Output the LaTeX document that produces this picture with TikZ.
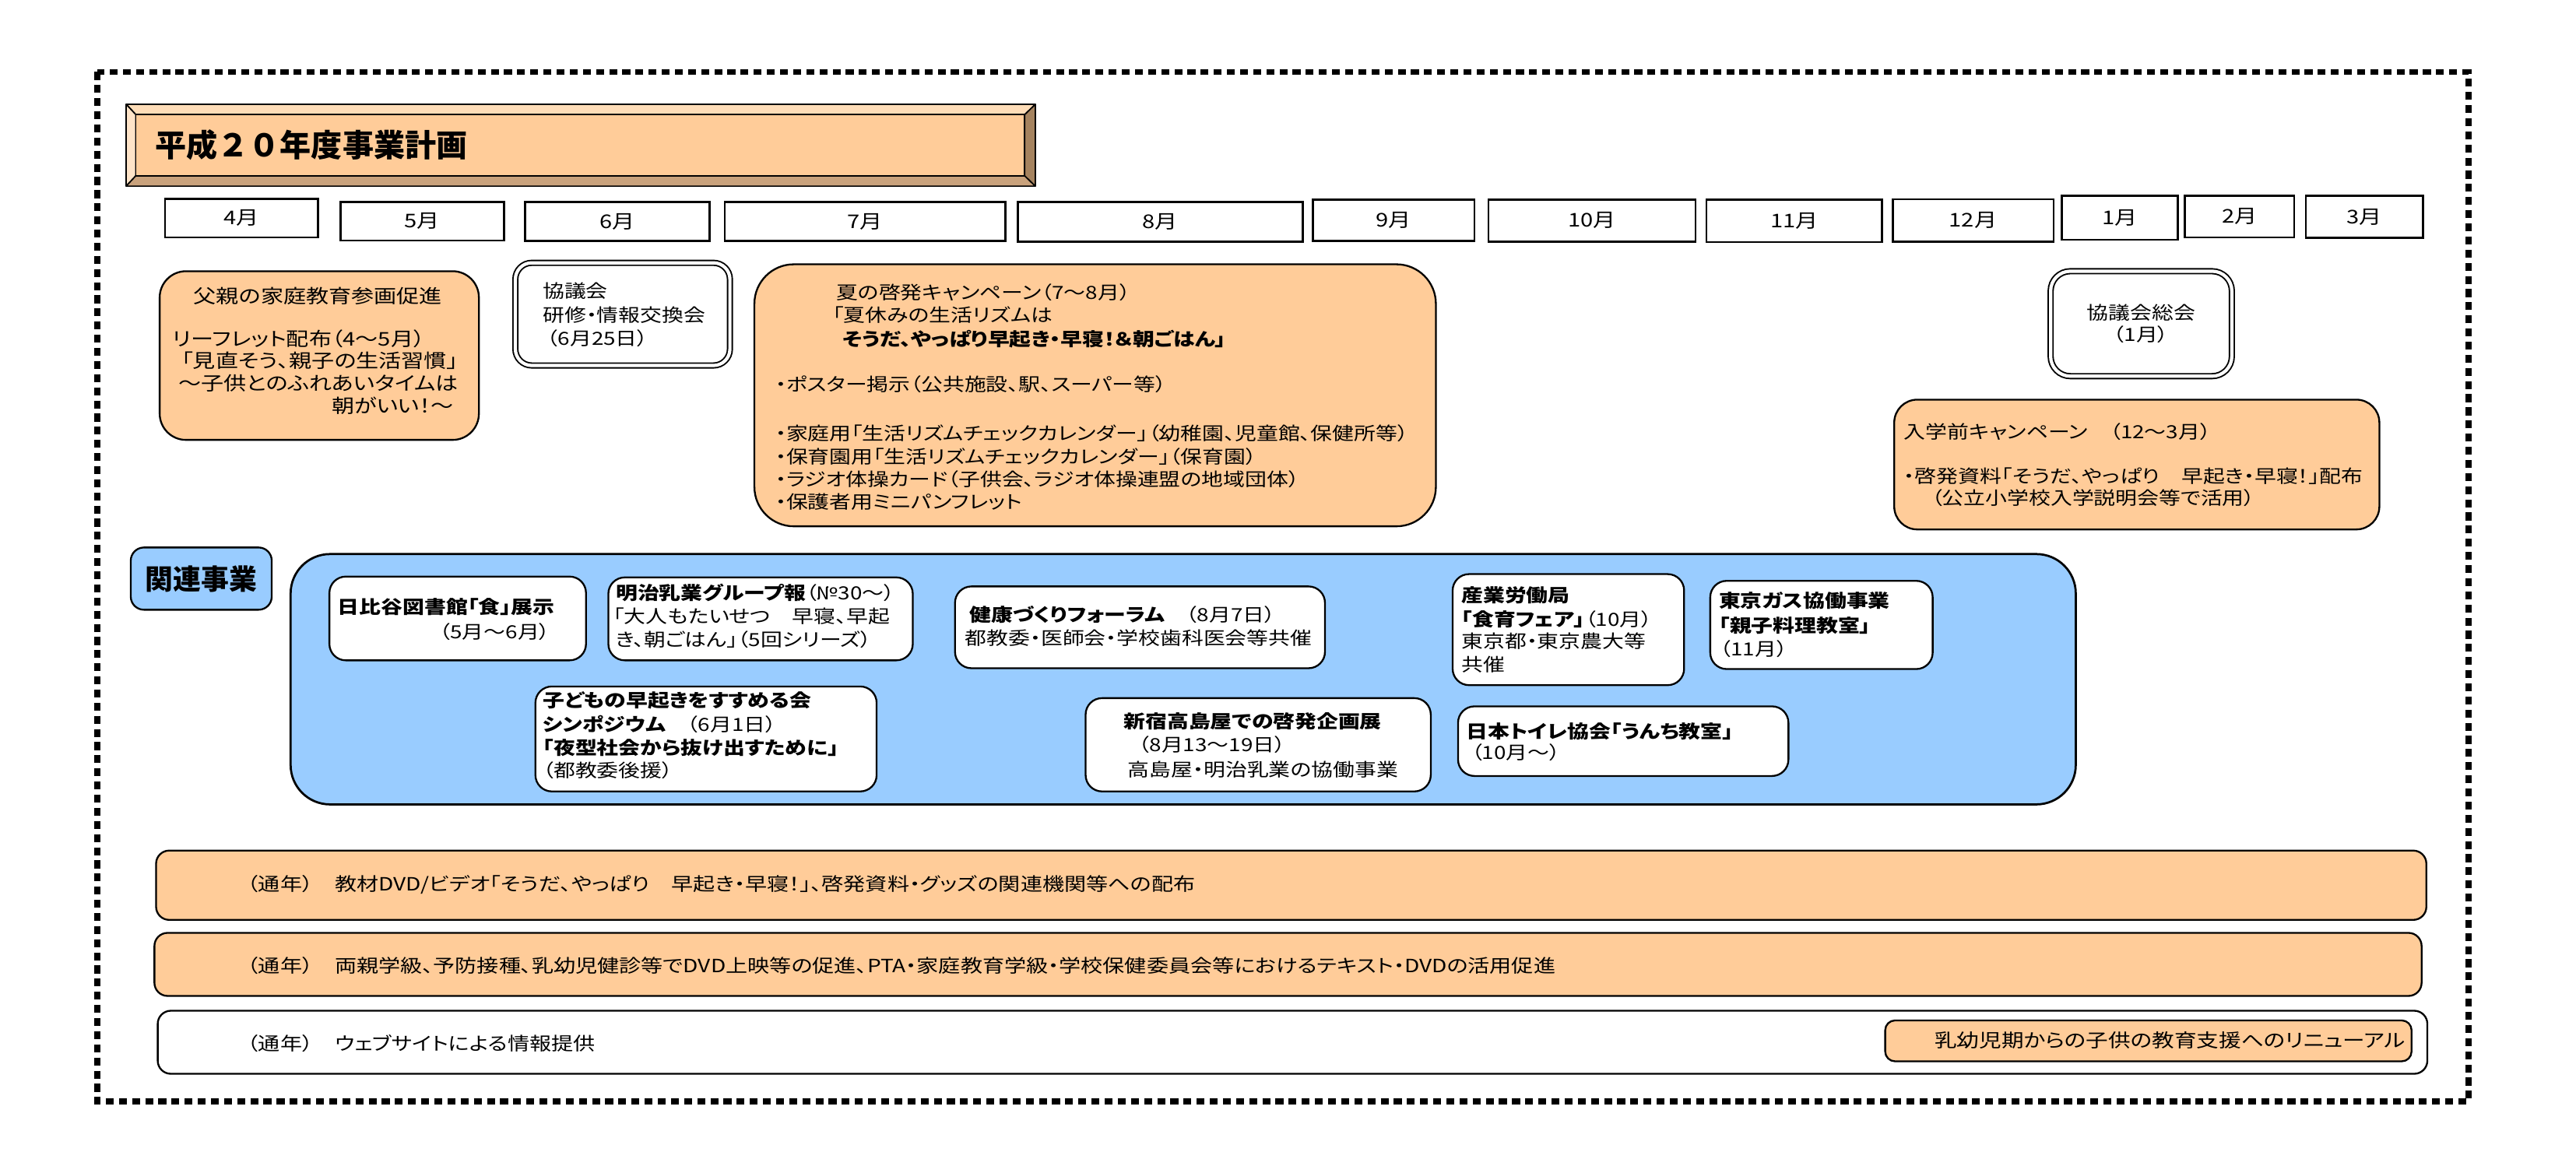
\documentclass[tikz,border=0pt]{standalone}
\usepackage{fontspec}
\setmainfont{Noto Sans CJK JP}[FakeStretch=1.2,RawFeature=+palt]
\newfontfamily\hfont{Noto Sans CJK JP}
\definecolor{peach}{HTML}{FFCC99}
\definecolor{sky}{HTML}{99CCFF}
\definecolor{bevtop}{HTML}{FFDDB8}
\definecolor{bevleft}{HTML}{FFE4C8}
\definecolor{bevbot}{HTML}{C9A27C}
\definecolor{bevright}{HTML}{A5835F}
\newcommand\FS[1]{\fontsize{#1}{#1}\selectfont}
\newcommand\BX[7]{\node[#2,minimum width={(#5)-(#3)},minimum height={(#6)-(#4)}] (#1) at ({((#3)+(#5))/2},{((#4)+(#6))/2}) {#7};}
\newcommand\TX[5]{\node[txt,#2] (#1) at (#3,#4) {#5};}
\begin{document}
\begin{tikzpicture}[x=1pt,y=-1pt,
 box/.style={draw,line width=1.1pt,rounded corners=#1,inner sep=0pt,outer sep=0pt},box/.default=8pt,
 pbox/.style={box={#1},fill=peach},pbox/.default=8pt,
 wbox/.style={box={#1},fill=white},wbox/.default=8pt,
 dbox/.style={draw,double,double distance=2pt,line width=0.9pt,rounded corners=#1,fill=white,inner sep=0pt,outer sep=0pt},dbox/.default=10pt,
 mbox/.style={draw,line width=1.3pt,fill=white,inner sep=0pt,outer sep=0pt,font=\FS{11.5}},
 txt/.style={inner sep=0pt,outer sep=0pt,anchor=west,font=\FS{11}},
 bevel/.style={draw,line width=0.8pt,line join=round},
]
\fill[white] (0,0) rectangle (1568,700.85);
\useasboundingbox (0,0) rectangle (1568,700.85);
% outer dotted frame
\draw[line width=3.6pt,dash pattern=on 4.8pt off 3.2pt] (59.2,43.8) rectangle (1502.6,670.6);
% title bevel
\filldraw[bevel,fill=bevtop] (76.8,63.5) -- (630.2,63.5) -- (623.7,69.8) -- (82.7,69.8) -- cycle;
\filldraw[bevel,fill=bevleft] (76.8,63.5) -- (82.7,69.8) -- (82.7,107) -- (76.8,113.3) -- cycle;
\filldraw[bevel,fill=bevbot] (76.8,113.3) -- (82.7,107) -- (623.7,107) -- (630.2,113.3) -- cycle;
\filldraw[bevel,fill=bevright] (630.2,63.5) -- (630.2,113.3) -- (623.7,107) -- (623.7,69.8) -- cycle;
\BX{title}{draw,line width=0.8pt,fill=peach,inner sep=0pt,outer sep=0pt}{82.7}{69.8}{623.7}{107}{}
\TX{titletext}{font=\hfont\bfseries\FS{19}}{94.5}{88.3}{平成２０年度事業計画}
% months
\BX{m4}{mbox}{100.4}{121}{193.6}{144.5}{4月}
\BX{m5}{mbox}{207.3}{122.8}{306.8}{146.4}{5月}
\BX{m6}{mbox}{319.7}{122.8}{431.8}{146.8}{6月}
\BX{m7}{mbox}{441.1}{122.8}{612.1}{146.8}{7月}
\BX{m8}{mbox}{619.5}{122.8}{793}{147}{8月}
\BX{m9}{mbox}{799}{121.5}{897.5}{146.5}{9月}
\BX{m10}{mbox}{906}{121.5}{1032}{147}{10月}
\BX{m11}{mbox}{1038.7}{121.6}{1145.7}{147.4}{11月}
\BX{m12}{mbox}{1152}{121.3}{1250}{147.2}{12月}
\BX{m1}{mbox}{1255}{119.3}{1325.5}{146}{1月}
\BX{m2}{mbox}{1330}{119.3}{1396.5}{144.5}{2月}
\BX{m3}{mbox}{1403.5}{119.3}{1475}{144.7}{3月}
% box A
\BX{boxA}{pbox=16pt}{97.2}{165.1}{291.5}{267.8}{}
\TX{a1}{anchor=center,font=\FS{11.5}}{193.5}{180.1}{父親の家庭教育参画促進}
\TX{a2}{font=\FS{11.5}}{105.1}{206.2}{リーフレット配布（4～5月）}
\TX{a3}{font=\FS{11.5}}{110.6}{219.6}{「見直そう、親子の生活習慣」}
\TX{a4}{anchor=east,font=\FS{11.5}}{279}{233.3}{～子供とのふれあいタイムは}
\TX{a5}{anchor=east,font=\FS{11.5}}{276}{247.2}{朝がいい！～}
% box B
\BX{boxB}{dbox=10pt}{313.7}{160}{444.3}{222.5}{}
\TX{b1}{}{330.4}{177.2}{協議会}
\TX{b2}{}{330.4}{191.7}{研修・情報交換会}
\TX{b3}{}{333}{205.8}{（6月25日）}
% box C
\BX{boxC}{pbox=24pt}{459.2}{160.9}{874}{320.4}{}
\TX{c1}{}{509.1}{178}{夏の啓発キャンペーン（7～8月）}
\TX{c2}{}{507}{191.7}{「夏休みの生活リズムは}
\TX{c3}{font=\FS{11}\bfseries}{513}{206.2}{そうだ、やっぱり早起き・早寝！＆朝ごはん」}
\TX{c4}{}{472}{233.8}{・ポスター掲示（公共施設、駅、スーパー等）}
\TX{c5}{}{472}{263.8}{・家庭用「生活リズムチェックカレンダー」（幼稚園、児童館、保健所等）}
\TX{c6}{}{472}{277.9}{・保育園用「生活リズムチェックカレンダー」（保育園）}
\TX{c7}{}{472}{291.7}{・ラジオ体操カード（子供会、ラジオ体操連盟の地域団体）}
\TX{c8}{}{472}{305.6}{・保護者用ミニパンフレット}
% box D
\BX{boxD}{dbox=12pt}{1248.2}{165.1}{1358.5}{229}{}
\TX{d1}{anchor=center}{1303.2}{190.4}{協議会総会}
\TX{d2}{anchor=center}{1303.2}{203.8}{（1月）}
% box E
\BX{boxE}{pbox=14pt}{1153}{243.3}{1448.3}{322.3}{}
\TX{e1}{font=\FS{11}}{1159}{263}{入学前キャンペーン　（12～3月）}
\TX{e2}{font=\FS{11}}{1159}{289.9}{・啓発資料「そうだ、やっぱり　早起き・早寝！」配布}
\TX{e3}{font=\FS{11}}{1175.6}{303.3}{（公立小学校入学説明会等で活用）}
% related
\BX{rel}{box=8pt,fill=sky}{79.6}{333.3}{165.4}{371.2}{}
\TX{reltext}{anchor=center,font=\hfont\bfseries\FS{17}}{122.5}{352.3}{関連事業}
\BX{blue}{box=24pt,fill=sky,line width=1.3pt}{176.9}{337.3}{1263.5}{489.7}{}
% white boxes
\BX{w1}{wbox=10pt}{200.5}{351}{356.7}{402}{}
\TX{w1a}{font=\FS{11}\bfseries}{205.6}{369.5}{日比谷図書館「食」展示}
\TX{w1b}{}{267.5}{384.7}{（5月～6月）}
\BX{w2}{wbox=10pt}{370.3}{351.5}{555.6}{402}{}
\TX{w2a}{}{374.9}{361}{{\bfseries 明治乳業グループ報}（№30～）}
\TX{w2b}{}{373.4}{375.2}{「大人もたいせつ　早寝、早起}
\TX{w2c}{}{374.9}{389.4}{き、朝ごはん」（5回シリーズ）}
\BX{w3}{wbox=10pt}{325.9}{417.9}{533.6}{481.8}{}
\TX{w3a}{font=\FS{11}\bfseries}{330.4}{426.5}{子どもの早起きをすすめる会}
\TX{w3b}{}{330.4}{440.8}{{\bfseries シンポジウム}　（6月1日）}
\TX{w3c}{font=\FS{11}\bfseries}{330.4}{455}{「夜型社会から抜け出すために」}
\TX{w3d}{}{330.4}{469.2}{（都教委後援）}
\BX{w4}{wbox=10pt}{581.3}{357}{806.5}{406.8}{}
\TX{w4a}{}{590.4}{374.4}{{\bfseries 健康づくりフォーラム}　（8月7日）}
\TX{w4b}{}{587.4}{388.6}{都教委・医師会・学校歯科医会等共催}
\BX{w5}{wbox=10pt}{660.8}{425}{870.9}{481.8}{}
\TX{w5a}{font=\FS{11}\bfseries}{684}{439.2}{新宿高島屋での啓発企画展}
\TX{w5b}{}{693.1}{453.4}{（8月13～19日）}
\TX{w5c}{}{686.5}{468.4}{高島屋・明治乳業の協働事業}
\BX{w6}{wbox=10pt}{884.2}{349.5}{1025.1}{417.1}{}
\TX{w6a}{font=\FS{11}\bfseries}{889.6}{362.6}{産業労働局}
\TX{w6b}{}{889.6}{376.8}{{\bfseries 「食育フェア」}（10月）}
\TX{w6c}{}{889.6}{390.2}{東京都・東京農大等}
\TX{w6d}{}{889.6}{404.4}{共催}
\BX{w7}{wbox=10pt}{1041}{353.6}{1176.4}{407.3}{}
\TX{w7a}{font=\FS{11}\bfseries}{1046.3}{365.7}{東京ガス協働事業}
\TX{w7b}{font=\FS{11}\bfseries}{1046.3}{380.7}{「親子料理教室」}
\TX{w7c}{}{1047}{395}{（11月）}
\BX{w8}{wbox=10pt}{887.5}{430}{1088.6}{472.4}{}
\TX{w8a}{font=\FS{11}\bfseries}{892.6}{445.5}{日本トイレ協会「うんち教室」}
\TX{w8b}{}{895.6}{458.1}{（10月～）}
% bars
\BX{bar1}{pbox=8pt}{95}{517.8}{1476.9}{560}{}
\TX{bar1t}{font=\FS{11.1}}{150.6}{538.7}{（通年）　教材DVD/ビデオ「そうだ、やっぱり　早起き・早寝！」、啓発資料・グッズの関連機関等への配布}
\BX{bar2}{pbox=8pt}{94}{567.9}{1474}{606.3}{}
\TX{bar2t}{font=\FS{11.1}}{150.6}{587.7}{（通年）　両親学級、予防接種、乳幼児健診等でDVD上映等の促進、PTA・家庭教育学級・学校保健委員会等におけるテキスト・DVDの活用促進}
\BX{bar3}{wbox=8pt}{96}{615.3}{1477.5}{653.7}{}
\TX{bar3t}{font=\FS{11.1}}{150.6}{635.1}{（通年）　ウェブサイトによる情報提供}
\BX{renew}{pbox=6pt}{1147.5}{621.2}{1467.9}{646.1}{}
\TX{renewt}{anchor=east,font=\FS{11.3}}{1464.2}{633.5}{乳幼児期からの子供の教育支援へのリニューアル}
\end{tikzpicture}
\end{document}
